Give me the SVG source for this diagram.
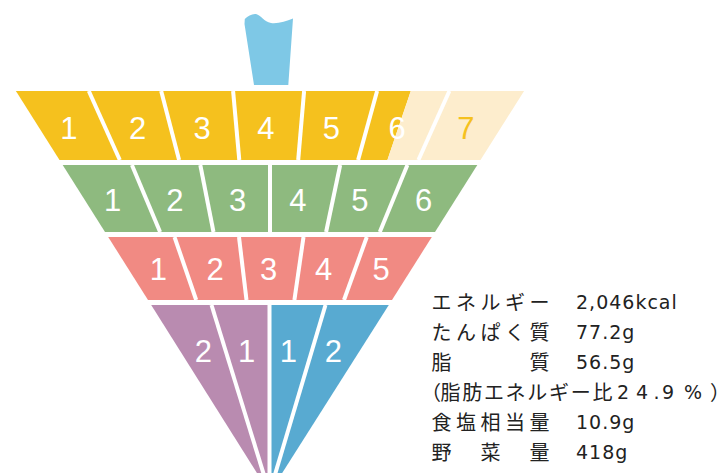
<svg xmlns="http://www.w3.org/2000/svg" width="725" height="473" viewBox="0 0 725 473">
<style>
.y{fill:#F5C11E}.lt{fill:#FDEDCD}.g{fill:#8EBA7F}.p{fill:#F18A83}.pu{fill:#B98BB0}.b{fill:#58AAD1}
.num{font-family:"Liberation Sans",Arial,sans-serif;font-size:31px;fill:#fff;text-anchor:middle}
.div{stroke:#fff;stroke-width:4;fill:none}
.jp{font-family:"Noto Sans CJK JP",sans-serif;font-size:20px;fill:#222;letter-spacing:4.5px}
.val{font-family:"DejaVu Sans","Noto Sans CJK JP",sans-serif;font-size:19px;fill:#222;letter-spacing:1px}
</style>
<rect width="725" height="473" fill="#fff"/>
<g id="cup">
<path d="M244.5,24 L244.8,19 C248,16 252,13.5 256,14 C261,15 264,22 271,23 C278,24 286,21 293,18.5 L288.3,85 L254,85 Z" fill="#7EC8E6"/>
</g>
<g id="row1">
<g id="r1c1"><polygon class="y" points="15.9,91 88.8,91 119.8,160 59.5,160"/><text class="num" x="68.9" y="138.5">1</text></g>
<g id="r1c2"><polygon class="y" points="88.8,91 161.2,91 179.1,160 119.8,160"/><text class="num" x="137.7" y="138.5">2</text></g>
<g id="r1c3"><polygon class="y" points="161.2,91 233.1,91 239.3,160 179.1,160"/><text class="num" x="202.1" y="138.5">3</text></g>
<g id="r1c4"><polygon class="y" points="233.1,91 304.1,91 298.2,160 239.3,160"/><text class="num" x="265.8" y="138.5">4</text></g>
<g id="r1c5"><polygon class="y" points="304.1,91 377.1,91 358.1,160 298.2,160"/><text class="num" x="331.3" y="138.5">5</text></g>
<g id="r1c6"><polygon class="y" points="377.1,91 410.8,91 387.4,160 358.1,160"/><polygon class="lt" points="410.8,91 449.4,91 418.4,160 387.4,160"/><text class="num" x="397" y="138.5">6</text></g>
<g id="r1c7"><polygon class="lt" points="449.4,91 524.1,91 480.5,160 418.4,160"/><text class="num" x="465.9" y="138.5" style="fill:#F5C11E">7</text></g>
</g>
<g id="row2">
<g id="r2c1"><polygon class="g" points="62.7,165 131.9,165 160.1,232 105,232"/><text class="num" x="112.6" y="210.5">1</text></g>
<g id="r2c2"><polygon class="g" points="131.9,165 200.3,165 213.5,232 160.1,232"/><text class="num" x="174.9" y="210.5">2</text></g>
<g id="r2c3"><polygon class="g" points="200.3,165 270,165 270,232 213.5,232"/><text class="num" x="237.6" y="210.5">3</text></g>
<g id="r2c4"><polygon class="g" points="270,165 340.2,165 326.1,232 270,232"/><text class="num" x="297.9" y="210.5">4</text></g>
<g id="r2c5"><polygon class="g" points="340.2,165 407.4,165 379.8,232 326.1,232"/><text class="num" x="359.8" y="210.5">5</text></g>
<g id="r2c6"><polygon class="g" points="407.4,165 477.3,165 435,232 379.8,232"/><text class="num" x="423.6" y="210.5">6</text></g>
</g>
<g id="row3">
<g id="r3c1"><polygon class="p" points="108.2,237 174.5,237 196.2,300 148,300"/><text class="num" x="158.4" y="280">1</text></g>
<g id="r3c2"><polygon class="p" points="174.5,237 239,237 246.5,300 196.2,300"/><text class="num" x="215.2" y="280">2</text></g>
<g id="r3c3"><polygon class="p" points="239,237 303.5,237 294.4,300 246.5,300"/><text class="num" x="268.6" y="280">3</text></g>
<g id="r3c4"><polygon class="p" points="303.5,237 366.8,237 344,300 294.4,300"/><text class="num" x="323.7" y="280">4</text></g>
<g id="r3c5"><polygon class="p" points="366.8,237 431.8,237 392,300 344,300"/><text class="num" x="381" y="280">5</text></g>
</g>
<g id="row4">
<g id="r4c1"><polygon class="pu" points="151.2,305 211.5,305 269.5,493"/><text class="num" x="203.3" y="361.7">2</text></g>
<g id="r4c2"><polygon class="pu" points="211.5,305 269.5,305 269.5,493"/><text class="num" x="246.7" y="361.7">1</text></g>
<g id="r4c3"><polygon class="b" points="269.5,305 325.5,305 269.5,493"/><text class="num" x="288.3" y="361.7">1</text></g>
<g id="r4c4"><polygon class="b" points="325.5,305 388.8,305 269.5,493"/><text class="num" x="333.3" y="361.7">2</text></g>
</g>
<g id="dividers" class="div">
<line x1="88.8" y1="91" x2="119.8" y2="160"/><line x1="161.2" y1="91" x2="179.1" y2="160"/><line x1="233.1" y1="91" x2="239.3" y2="160"/><line x1="304.1" y1="91" x2="298.2" y2="160"/><line x1="377.1" y1="91" x2="358.1" y2="160"/><line x1="449.4" y1="91" x2="418.4" y2="160"/>
<line x1="131.9" y1="165" x2="160.1" y2="232"/><line x1="200.3" y1="165" x2="213.5" y2="232"/><line x1="270" y1="165" x2="270" y2="232"/><line x1="340.2" y1="165" x2="326.1" y2="232"/><line x1="407.4" y1="165" x2="379.8" y2="232"/>
<line x1="174.5" y1="237" x2="196.2" y2="300"/><line x1="239" y1="237" x2="246.5" y2="300"/><line x1="303.5" y1="237" x2="294.4" y2="300"/><line x1="366.8" y1="237" x2="344" y2="300"/>
<line x1="211.5" y1="305" x2="269.5" y2="493"/><line x1="269.5" y1="305" x2="269.5" y2="493"/><line x1="325.5" y1="305" x2="269.5" y2="493"/>
</g>
<g id="nutrition">
<text class="jp" x="431.5" y="310">エネルギー</text><text class="val" x="576" y="309" letter-spacing="1.3">2,046kcal</text>
<text class="jp" x="431.5" y="340">たんぱく質</text><text class="val" x="576" y="339">77.2g</text>
<text class="jp" x="431.5" y="370">脂　　　質</text><text class="val" x="576" y="369">56.5g</text>
<text class="jp" y="400" style="letter-spacing:0"><tspan x="421">（</tspan><tspan x="440.5" style="letter-spacing:1.7px">脂肪エネルギー比</tspan></text><text class="val" y="399" style="letter-spacing:0"><tspan x="617">2</tspan><tspan x="636">4</tspan><tspan x="653.5">.</tspan><tspan x="662">9</tspan><tspan x="684">%</tspan></text><text class="jp" x="710" y="400" style="letter-spacing:0;font-feature-settings:'halt'">）</text>
<text class="jp" x="431.5" y="430">食塩相当量</text><text class="val" x="576" y="429">10.9g</text>
<text class="jp" x="431.5" y="460">野　菜　量</text><text class="val" x="576" y="459" letter-spacing="2">418g</text>
</g>
</svg>
